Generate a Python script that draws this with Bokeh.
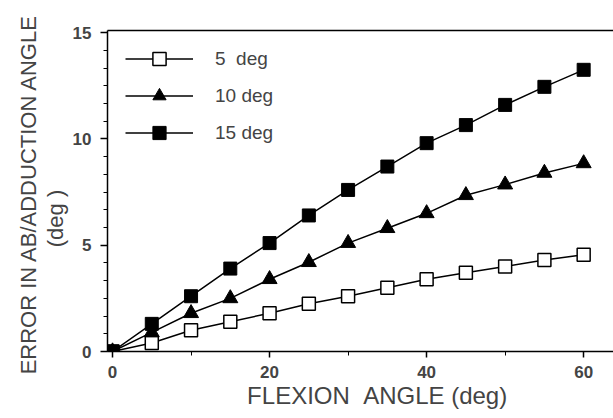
from bokeh.plotting import figure
from bokeh.models import (Legend, LegendItem, LinearAxis, SingleIntervalTicker,
                          FixedTicker, Range1d)
from bokeh.embed import file_html
from bokeh.resources import INLINE

# ---- data ----
flexion = [0, 5, 10, 15, 20, 25, 30, 35, 40, 45, 50, 55, 60]
err_5deg = [0, 0.4, 1.0, 1.4, 1.8, 2.25, 2.6, 3.0, 3.4, 3.7, 4.0, 4.3, 4.55]
err_10deg = [0, 0.9, 1.8, 2.5, 3.4, 4.2, 5.1, 5.8, 6.5, 7.35, 7.85, 8.4, 8.85]
err_15deg = [0, 1.3, 2.6, 3.9, 5.1, 6.4, 7.6, 8.7, 9.8, 10.65, 11.6, 12.45, 13.25]
series_labels = ["5\u00a0 deg", "10 deg", "15 deg"]

FONT = "Liberation Sans"
NB = "\u00a0"

p = figure(width=613, height=418,
           x_range=Range1d(-0.64, 63.8), y_range=Range1d(0, 15.1),
           output_backend="svg", toolbar_location=None,
           min_border_left=107, min_border_right=0,
           min_border_top=30, min_border_bottom=67)
p.grid.visible = False
p.outline_line_color = None
p.background_fill_color = "white"
p.border_fill_color = "white"

# x axis
xa = p.xaxis[0]
xa.ticker = SingleIntervalTicker(interval=20, num_minor_ticks=2)
xa.axis_label = NB * 5 + "FLEXION" + NB + NB + "ANGLE (deg)"
xa.axis_label_text_font = FONT
xa.axis_label_text_font_size = "24px"
xa.axis_label_text_font_style = "normal"
xa.axis_label_standoff = 1
xa.major_label_text_font = FONT
xa.major_label_text_font_size = "17px"
xa.major_label_text_font_style = "bold"
xa.major_label_standoff = 8
xa.major_tick_in = 0
xa.major_tick_out = 6
xa.minor_tick_in = 0
xa.minor_tick_out = 4
xa.axis_line_width = 1.5
xa.major_tick_line_width = 1.5

# y axis
ya = p.yaxis[0]
ya.ticker = SingleIntervalTicker(interval=5, num_minor_ticks=6)
ya.axis_label = "ERROR IN AB/ADDUCTION ANGLE" + NB + "\n(deg )" + NB * 9
ya.axis_label_text_font = FONT
ya.axis_label_text_font_size = "22px"
ya.axis_label_text_font_style = "normal"
ya.axis_label_text_line_height = 1.05
ya.axis_label_standoff = 2
ya.major_label_text_font = FONT
ya.major_label_text_font_size = "17px"
ya.major_label_text_font_style = "bold"
ya.major_label_standoff = 9
ya.major_tick_in = 0
ya.major_tick_out = 7
ya.minor_tick_in = 0
ya.minor_tick_out = 4
ya.axis_line_width = 1.5
ya.major_tick_line_width = 1.5

# top frame line
top = LinearAxis(ticker=FixedTicker(ticks=[]), axis_line_width=1.5,
                 major_tick_line_color=None, minor_tick_line_color=None,
                 major_label_text_font_size="0px")
p.add_layout(top, "above")

# series
l5 = p.line(flexion, err_5deg, line_color="black", line_width=1.5)
s5 = p.scatter(flexion, err_5deg, marker="square", size=13,
               fill_color="white", line_color="black", line_width=1.5)
l10 = p.line(flexion, err_10deg, line_color="black", line_width=1.5)
s10 = p.scatter(flexion, err_10deg, marker="triangle", size=15,
                fill_color="black", line_color="black", line_width=1)
l15 = p.line(flexion, err_15deg, line_color="black", line_width=1.5)
s15 = p.scatter(flexion, err_15deg, marker="square", size=13,
                fill_color="black", line_color="black", line_width=1)

legend = Legend(items=[LegendItem(label=series_labels[0], renderers=[l5, s5]),
                       LegendItem(label=series_labels[1], renderers=[l10, s10]),
                       LegendItem(label=series_labels[2], renderers=[l15, s15])],
                location=(18, 202), glyph_width=68, glyph_height=33,
                label_height=33, spacing=4, padding=0, margin=0,
                label_standoff=22, border_line_color=None,
                background_fill_alpha=0,
                label_text_font=FONT, label_text_font_size="19px")
p.add_layout(legend)

open("out.html", "w").write(file_html(p, INLINE))
